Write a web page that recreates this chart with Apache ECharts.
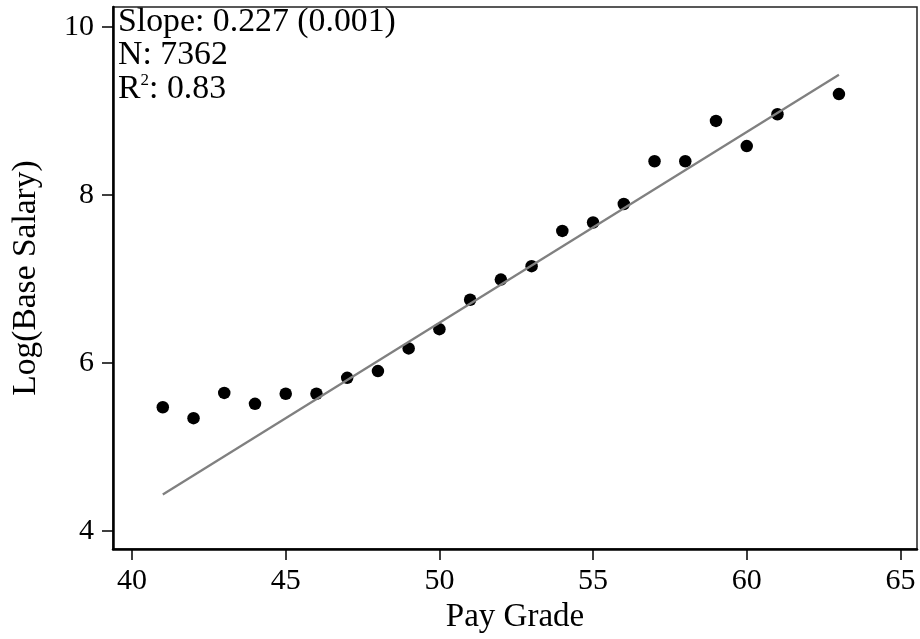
<!DOCTYPE html>
<html><head><meta charset="utf-8">
<script src="https://cdn.jsdelivr.net/npm/echarts@6/dist/echarts.min.js"></script>
<style>html,body{margin:0;padding:0;background:#fff}#c{width:920px;height:639px}</style>
</head><body><div id="c"></div>
<script>
const payGrade = [41,42,43,44,45,46,47,48,49,50,51,52,53,54,55,56,57,58,59,60,61,63];
const logSalary = [5.47,5.34,5.64,5.51,5.63,5.63,5.82,5.90,6.17,6.40,6.75,6.99,7.15,7.57,7.67,7.89,8.40,8.40,8.88,8.58,8.96,9.20];
const fitX = [41, 63];
const fitY = [4.43, 9.43];
const xTicks = [40,45,50,55,60,65];
const yTicks = [4,6,8,10];
const statLines = ['Slope: 0.227 (0.001)', 'N: 7362', '0.83'];

const FONT = '"Liberation Serif", "Times New Roman", serif';
const chart = echarts.init(document.getElementById('c'), null, {renderer:'canvas'});
const pts = payGrade.map((x,i)=>[x, logSalary[i]]);
const fit = fitX.map((x,i)=>[x, fitY[i]]);

chart.setOption({
  animation:false,
  backgroundColor:'#fff',
  grid:{left:113,right:3,top:7,bottom:87,show:true,borderColor:'#222',borderWidth:1.5,backgroundColor:'transparent'},
  xAxis:{
    type:'value', min:39.38, max:65.54,
    axisLine:{show:true,onZero:false,lineStyle:{color:'#000',width:2.5}},
    axisTick:{show:true,length:11,customValues:xTicks,lineStyle:{color:'#000',width:1.5}},
    axisLabel:{customValues:xTicks,fontSize:30,fontFamily:FONT,color:'#000',margin:17},
    splitLine:{show:false},
    name:'Pay Grade', nameLocation:'middle', nameGap:47,
    nameTextStyle:{fontSize:33,fontFamily:FONT,color:'#000'}
  },
  yAxis:{
    type:'value', min:3.78, max:10.237,
    axisLine:{show:true,onZero:false,lineStyle:{color:'#000',width:2.5}},
    axisTick:{show:true,length:11,customValues:yTicks,lineStyle:{color:'#000',width:1.5}},
    axisLabel:{customValues:yTicks,fontSize:30,fontFamily:FONT,color:'#000',margin:19},
    splitLine:{show:false},
    name:'Log(Base Salary)', nameLocation:'middle', nameGap:70, nameRotate:90,
    nameTextStyle:{fontSize:33.5,fontFamily:FONT,color:'#000'}
  },
  graphic:[{
    type:'text', left:118, top:5, z:100,
    style:{
      text:'{a|'+statLines[0]+'}\n{a|'+statLines[1]+'}\n{a|R}{s|2}{a|: '+statLines[2]+'}',
      rich:{
        a:{fontSize:33.8,fontFamily:FONT,fill:'#000',lineHeight:33.5},
        s:{fontSize:17,fontFamily:FONT,fill:'#000',lineHeight:17,verticalAlign:'top'}
      }
    }
  }],
  series:[
    {type:'scatter',data:pts,symbol:'circle',symbolSize:12.5,itemStyle:{color:'#000',opacity:1},z:2},
    {type:'line',data:fit,showSymbol:false,symbol:'none',lineStyle:{color:'#808080',width:2.3},z:3}
  ]
});
</script></body></html>
